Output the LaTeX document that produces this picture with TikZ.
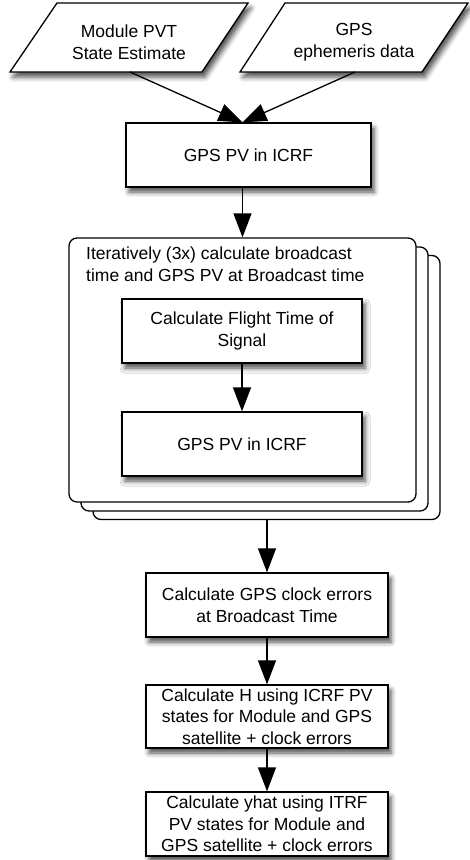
\documentclass[tikz,border=0pt]{standalone}
\usepackage{fontspec}
\setmainfont{Liberation Sans}
\usetikzlibrary{arrows.meta,shadows.blur,calc}
\begin{document}
\begin{tikzpicture}[x=1pt,y=-1pt,
  every node/.append style={font=\fontsize{17.5}{21.5}\selectfont},
  shad/.style={blur shadow={shadow xshift=3pt,shadow yshift=-5pt,shadow blur radius=5pt,shadow opacity=70}},
  procbox/.style={draw,line width=1.3pt,fill=white,shad,align=center,inner sep=0pt},
  stackbox/.style={draw,line width=1.3pt,fill=white,rounded corners=8pt,inner sep=0pt,minimum width=347pt,minimum height=264pt},
  para/.style={draw,line width=1.3pt,fill=white,shad,line join=miter},
  lbl/.style={align=center,inner sep=0pt},
  arr/.style={draw=black,line width=1.3pt,-{Triangle[length=24pt,width=18pt,fill=black]}}
]
\useasboundingbox (0,0) rectangle (470,860);

% input parallelograms
\draw[para] (57,3) -- (248,3) -- (202,72) -- (10,72) -- cycle;
\node[lbl] (p1) at (129,42) {Module PVT\\State Estimate};
\coordinate (p1b) at (130,72);
\draw[para] (285,3) -- (468,3) -- (422,72) -- (240,72) -- cycle;
\node[lbl] (p2) at (354,42) {GPS\\ephemeris data};
\coordinate (p2b) at (355,72);

% first box
\node[procbox,minimum width=245pt,minimum height=64pt] (box1) at (248.5,155) {GPS PV in ICRF};

% stacked group
\node[stackbox] (back) at (266.5,387.5) {};
\node[stackbox] (mid) at (254.5,379) {};
\node[stackbox] (front) at (242.5,370) {};
\node[align=left,inner sep=0pt,anchor=north west] (title) at (86,247)
  {Iteratively (3x) calculate broadcast\\time and GPS PV at Broadcast time};

\node[procbox,minimum width=240pt,minimum height=64pt] (in1) at (242,331) {Calculate Flight Time of\\Signal};
\node[procbox,minimum width=240pt,minimum height=64pt] (in2) at (242,444) {GPS PV in ICRF};

% lower boxes
\node[procbox,minimum width=242pt,minimum height=64pt] (box3) at (267,605) {Calculate GPS clock errors\\at Broadcast Time};
\node[procbox,minimum width=242pt,minimum height=63pt] (box4) at (267,716.5) {Calculate H using ICRF PV\\states for Module and GPS\\satellite + clock errors};
\node[procbox,minimum width=242pt,minimum height=64pt] (box5) at (267,824) {Calculate yhat using ITRF\\PV states for Module and\\GPS satellite + clock errors};

% connectors
\draw[arr] (p1b) -- (front.north |- box1.north);
\draw[arr] (p2b) -- (front.north |- box1.north);
\draw[arr] (front.north |- box1.south) -- (front.north);
\draw[arr] (in1) -- (in2);
\draw[arr] (box3.north |- back.south) -- (box3.north);
\draw[arr] (box3) -- (box4);
\draw[arr] (box4) -- (box5);
\end{tikzpicture}
\end{document}
